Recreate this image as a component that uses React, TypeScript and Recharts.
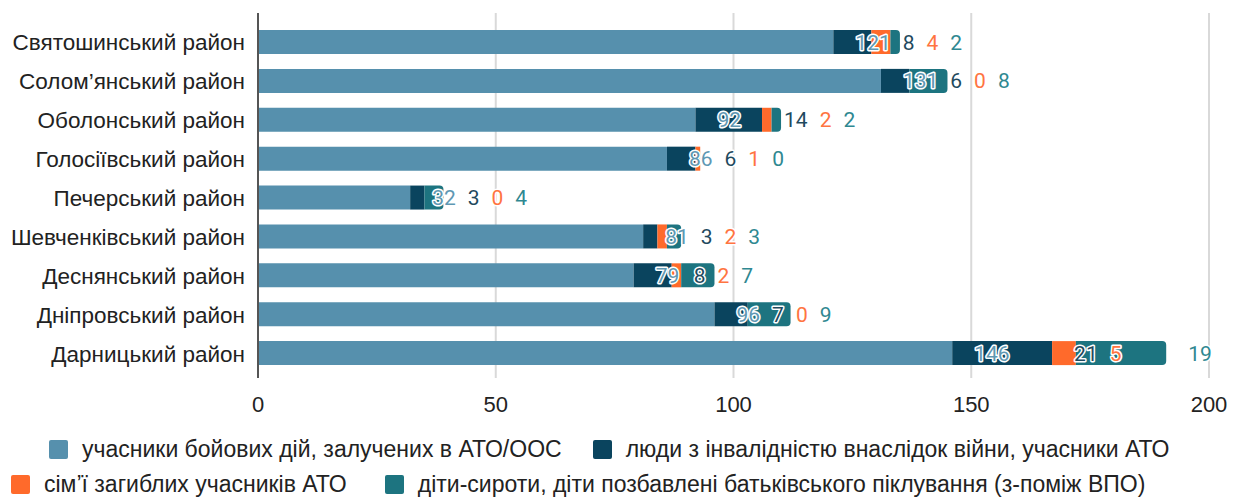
import React from 'react';
import { BarChart, Bar, XAxis, YAxis, CartesianGrid, LabelList, Legend } from 'recharts';

const categories = [
  'Святошинський район',
  'Солом’янський район',
  'Оболонський район',
  'Голосіївський район',
  'Печерський район',
  'Шевченківський район',
  'Деснянський район',
  'Дніпровський район',
  'Дарницький район',
];

const combatants = [121, 131, 92, 86, 32, 81, 79, 96, 146];
const disabledVeterans = [8, 6, 14, 6, 3, 3, 8, 7, 21];
const fallenFamilies = [4, 0, 2, 1, 0, 2, 2, 0, 5];
const orphans = [2, 8, 2, 0, 4, 3, 7, 9, 19];

const seriesNames = [
  'учасники бойових дій, залучених в АТО/ООС',
  'люди з інвалідністю внаслідок війни, учасники АТО',
  'сім’ї загиблих учасників АТО',
  'діти-сироти, діти позбавлені батьківського піклування (з-поміж ВПО)',
];

const xTicks = [0, 50, 100, 150, 200];

const barColors = ['#5690ad', '#0a445e', '#ff6a2b', '#1d7480'];
const labelColors = ['#5f98b3', '#1f4a5e', '#ff7441', '#2f8891'];
const seriesKeys = ['s1', 's2', 's3', 's4'];
const seriesValues = [combatants, disabledVeterans, fallenFamilies, orphans];

const data = categories.map((name, i) => ({
  name,
  s1: combatants[i],
  s2: disabledVeterans[i],
  s3: fallenFamilies[i],
  s4: orphans[i],
}));

// geometry of the value axis and rows (library scale)
const geom: { x0: number | null; ppu: number | null; rows: { i: number; cy: number }[] } = {
  x0: null,
  ppu: null,
  rows: [],
};

const getBox = (props: any) => {
  const vb = props.viewBox && typeof props.viewBox.x === 'number' ? props.viewBox : props;
  return {
    x: Number(vb.x ?? props.x),
    y: Number(vb.y ?? props.y),
    width: Number(vb.width ?? props.width),
    height: Number(vb.height ?? props.height),
  };
};

const recordGeometry = (props: any) => {
  const { x, y, width, height } = getBox(props);
  const i = props.index;
  const v = combatants[i];
  if (v > 0 && isFinite(width) && isFinite(x)) {
    geom.x0 = x;
    geom.ppu = width / v;
    geom.rows = geom.rows.filter((r) => r.i !== i);
    geom.rows.push({ i, cy: y + height / 2 });
  }
  return null;
};

const FONT_VALUE = 21;
const DIGIT_W = 11.8;

// labels of a row are drawn by the last series that has a visible segment in that row
const makeRowLabels = (seriesIndex: number) => (props: any) => {
  const { y, height } = getBox(props);
  const cy = y + height / 2;
  const x0 = geom.x0;
  const ppu = geom.ppu;
  if (x0 === null || ppu === null || geom.rows.length === 0) return null;
  let row = geom.rows[0];
  geom.rows.forEach((r) => {
    if (Math.abs(r.cy - cy) < Math.abs(row.cy - cy)) row = r;
  });
  const i = row.i;
  const vals = seriesValues.map((s) => s[i]);
  let lastNonZero = 0;
  vals.forEach((v, k) => {
    if (v > 0) lastNonZero = k;
  });
  if (lastNonZero !== seriesIndex) return null;
  let cum = 0;
  let prevRight = -Infinity;
  return (
    <g>
      {vals.map((v, k) => {
        cum += v;
        const end = x0 + cum * ppu;
        const left = Math.max(end + 22, prevRight + 12);
        const w = String(v).length * DIGIT_W;
        prevRight = left + w;
        return (
          <text
            key={k}
            x={left}
            y={row.cy}
            dy="0.36em"
            textAnchor="start"
            fill={labelColors[k]}
            stroke="#ffffff"
            strokeWidth={3}
            strokeLinejoin="round"
            style={{ paintOrder: 'stroke' }}
            fontFamily="Roboto, 'Noto Sans', sans-serif"
            fontSize={FONT_VALUE}
          >
            {v}
          </text>
        );
      })}
    </g>
  );
};

const legendFont = "'Liberation Sans', Arial, sans-serif";

const LegendItem = ({ color, text, marginRight }: { color: string; text: string; marginRight: number }) => (
  <span style={{ display: 'inline-flex', alignItems: 'center', marginRight }}>
    <span
      style={{
        display: 'inline-block',
        width: 19,
        height: 19,
        background: color,
        borderRadius: 2,
        marginRight: 14,
      }}
    />
    <span>{text}</span>
  </span>
);

const renderLegend = () => (
  <div
    style={{
      height: 74,
      fontFamily: legendFont,
      fontSize: 23,
      color: '#222',
      whiteSpace: 'nowrap',
      textAlign: 'left',
    }}
  >
    <div style={{ height: 35, lineHeight: '35px', paddingLeft: 49, paddingTop: 9, display: 'flex', alignItems: 'center' }}>
      <LegendItem color={barColors[0]} text={seriesNames[0]} marginRight={31} />
      <LegendItem color={barColors[1]} text={seriesNames[1]} marginRight={0} />
    </div>
    <div style={{ height: 35, lineHeight: '35px', paddingLeft: 11, display: 'flex', alignItems: 'center' }}>
      <LegendItem color={barColors[2]} text={seriesNames[2]} marginRight={38} />
      <LegendItem color={barColors[3]} text={seriesNames[3]} marginRight={0} />
    </div>
  </div>
);

export default function App() {
  return (
    <div style={{ position: 'absolute', left: 0, top: 0, width: 1234, height: 497, background: '#ffffff' }}>
      <BarChart
        width={1234}
        height={497}
        data={data}
        layout="vertical"
        margin={{ top: 13, right: 25, bottom: 0, left: 0 }}
        barCategoryGap={0}
      >
        <CartesianGrid horizontal={false} vertical={true} stroke="#d9d9d9" strokeWidth={2} />
        <XAxis
          type="number"
          domain={[0, 200]}
          ticks={xTicks}
          axisLine={false}
          tickLine={false}
          tickSize={0}
          tickMargin={18}
          height={45}
          tick={{ fill: '#222', fontSize: 22, fontFamily: legendFont }}
        />
        <YAxis
          type="category"
          dataKey="name"
          width={258}
          interval={0}
          axisLine={{ stroke: '#555', strokeWidth: 2 }}
          tickLine={false}
          tickSize={0}
          tickMargin={13}
          padding={{ top: 10, bottom: 5 }}
          tick={{ fill: '#222', fontSize: 22.5, fontFamily: legendFont }}
        />
        <Legend verticalAlign="bottom" content={renderLegend} />
        {seriesKeys.map((key, k) => (
          <Bar
            key={key}
            dataKey={key}
            name={seriesNames[k]}
            stackId="a"
            fill={barColors[k]}
            barSize={24}
            isAnimationActive={false}
            radius={k === 3 ? [0, 4, 4, 0] : 0}
          >
            {k === 0 && <LabelList dataKey={key} content={recordGeometry} />}
            {k > 0 && <LabelList dataKey={key} content={makeRowLabels(k)} />}
          </Bar>
        ))}
      </BarChart>
    </div>
  );
}
